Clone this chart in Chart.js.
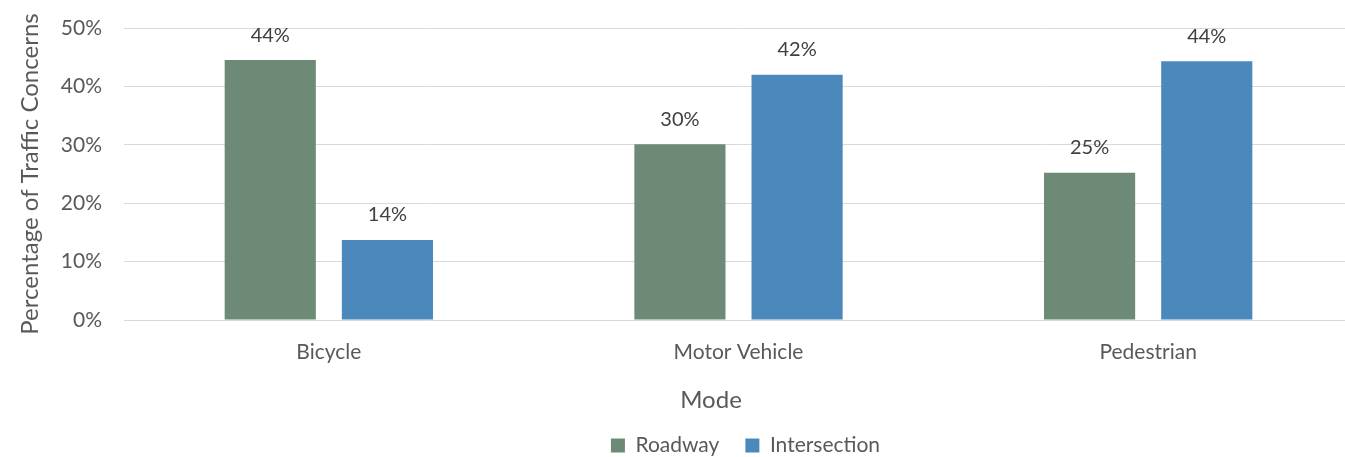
<!DOCTYPE html>
<html>
<head>
<meta charset="utf-8">
<script src="https://cdn.jsdelivr.net/npm/chart.js@4.4.1/dist/chart.umd.min.js"></script>
<style>
html,body{margin:0;padding:0;background:#fff;overflow:hidden;}
#wrap{width:1345px;height:457px;position:relative;overflow:hidden;}
canvas{display:block;}
</style>
</head>
<body>
<div id="wrap"><canvas id="c" width="1353" height="457"></canvas></div>
<script>
const categories = ["Bicycle", "Motor Vehicle", "Pedestrian"];
const roadway = [44.5, 30.1, 25.2];
const intersection = [13.7, 42.0, 44.3];
const roadwayLabels = ["44%", "30%", "25%"];
const intersectionLabels = ["14%", "42%", "44%"];
const yTicks = [0, 10, 20, 30, 40, 50];
const xTitle = "Mode";

const FONT = "Lato, 'Open Sans', sans-serif";

const labelPlugin = {
  id: 'barLabels',
  afterLayout(chart) {
    // shift legend to match reference placement
    chart.legend.left += 130;
  },
  afterDatasetsDraw(chart) {
    const ctx = chart.ctx;
    ctx.save();
    ctx.font = "20px " + FONT;
    ctx.fillStyle = "#404040";
    ctx.textAlign = "center";
    ctx.textBaseline = "middle";
    const lbls = [roadwayLabels, intersectionLabels];
    chart.data.datasets.forEach((ds, di) => {
      const meta = chart.getDatasetMeta(di);
      meta.data.forEach((bar, i) => {
        ctx.fillText(lbls[di][i], bar.x, bar.y - 25);
      });
    });
    // x axis title
    ctx.font = "24px " + FONT;
    ctx.fillStyle = "#595959";
    ctx.fillText(xTitle, 711, 400);
    ctx.restore();
  }
};

const chart = new Chart(document.getElementById('c'), {
  type: 'bar',
  data: {
    labels: categories,
    datasets: [
      { label: 'Roadway', data: roadway, backgroundColor: '#6c8a76', borderWidth: 0,
        categoryPercentage: 0.572, barPercentage: 0.778 },
      { label: 'Intersection', data: intersection, backgroundColor: '#4b89bd', borderWidth: 0,
        categoryPercentage: 0.572, barPercentage: 0.778 }
    ]
  },
  options: {
    responsive: false,
    animation: false,
    devicePixelRatio: 1,
    layout: { padding: { top: 28, right: 0, left: 8, bottom: 0 } },
    plugins: {
      legend: {
        position: 'bottom',
        labels: {
          font: { family: FONT, size: 21 },
          color: '#595959',
          boxWidth: 14, boxHeight: 14,
          padding: 26
        }
      },
      tooltip: { enabled: false }
    },
    scales: {
      x: {
        grid: { display: false, drawTicks: false },
        border: { display: true, color: '#d9d9d9', width: 1 },
        ticks: { font: { family: FONT, size: 21 }, color: '#595959', padding: 20 },
        afterFit(scale) {
          scale.height = 89;
          scale.paddingLeft = 0; scale.paddingRight = 0;
          scale.paddingTop = 0; scale.paddingBottom = 0;
        }
      },
      y: {
        min: 0, max: 50,
        afterBuildTicks(scale) { scale.ticks = yTicks.map(v => ({ value: v })); },
        grid: { color: '#d9d9d9', lineWidth: 1, drawTicks: false },
        border: { display: false },
        ticks: { font: { family: FONT, size: 21 }, color: '#595959', padding: 22,
                 callback: v => v + '%' },
        title: { display: true, text: 'Percentage of Traffic Concerns', font: { family: FONT, size: 24 }, color: '#595959', padding: { top: 8, bottom: 8 } },
        afterFit(scale) {
          scale.width = 116;
          scale.paddingTop = 0; scale.paddingBottom = 0;
          scale.paddingLeft = 0; scale.paddingRight = 0;
        }
      }
    }
  },
  plugins: [labelPlugin]
});
const origFit = chart.legend.fit.bind(chart.legend);
chart.legend.fit = function () { origFit(); this.height = 48; };
chart.update();
</script>
</body>
</html>
